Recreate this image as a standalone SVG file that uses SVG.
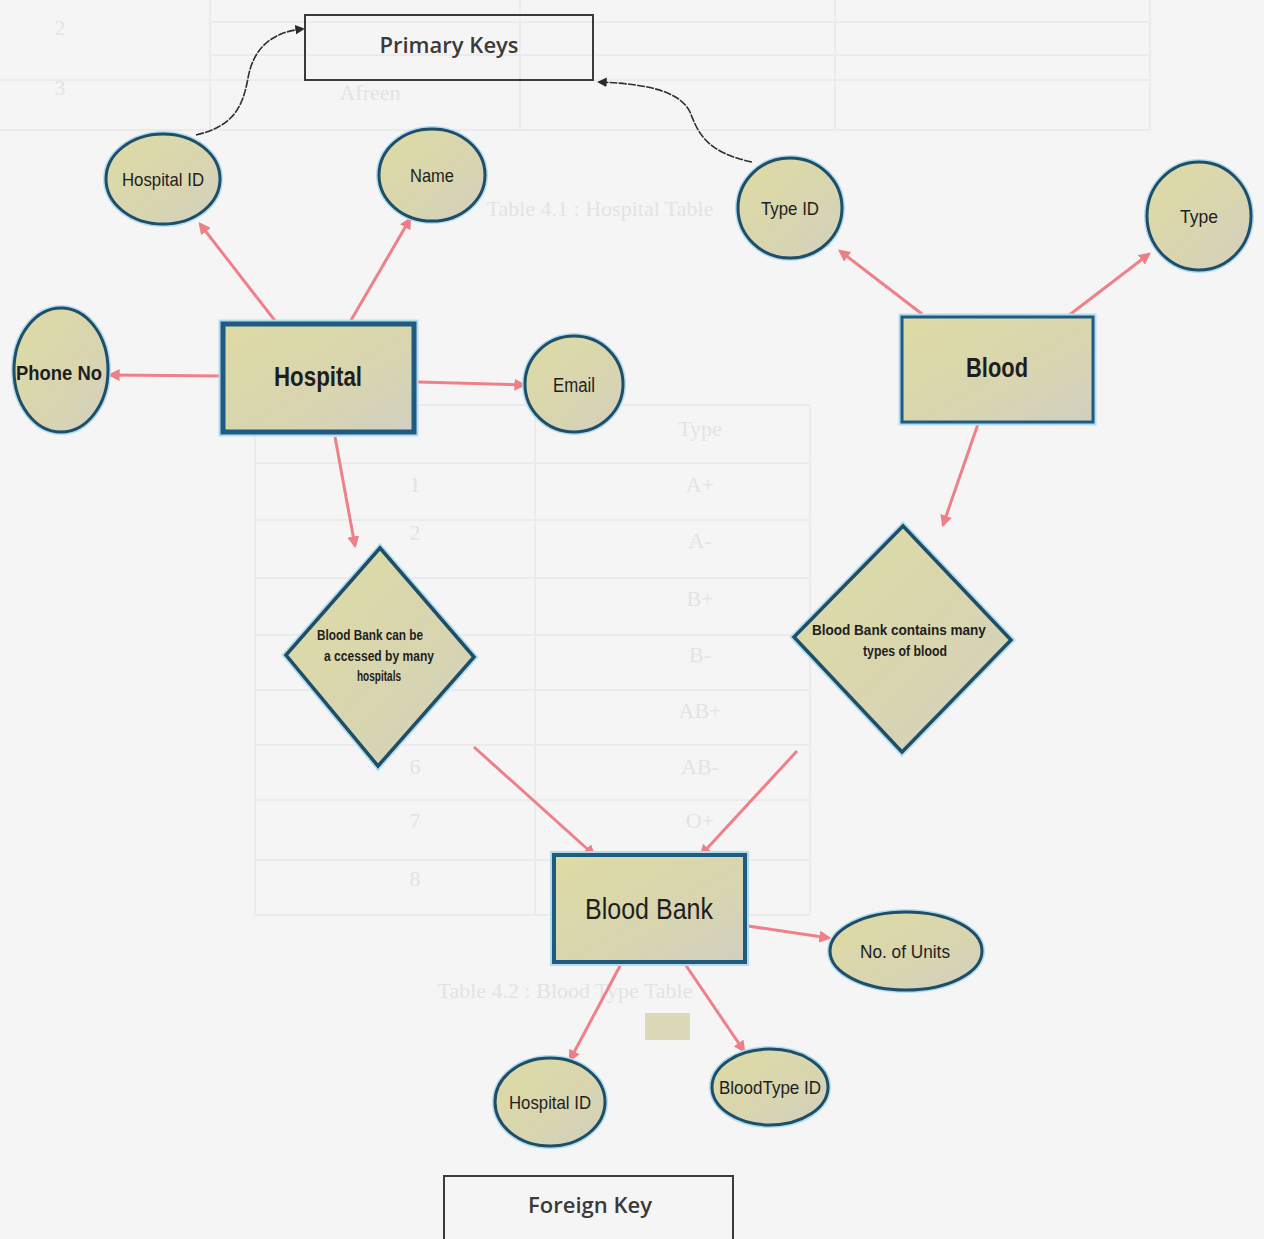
<svg xmlns="http://www.w3.org/2000/svg" width="1264" height="1239" viewBox="0 0 1264 1239">
  <defs>
    <linearGradient id="tan" x1="0" y1="0" x2="1" y2="1">
      <stop offset="0" stop-color="#dedba4"/>
      <stop offset="0.6" stop-color="#d8d5b0"/>
      <stop offset="1" stop-color="#d2cfc2"/>
    </linearGradient>
    <marker id="pink" viewBox="0 0 10 10" refX="8" refY="5" markerWidth="4" markerHeight="4" orient="auto" markerUnits="strokeWidth">
      <path d="M0,0 L10,5 L0,10 z" fill="#ef7f86"/>
    </marker>
    <marker id="dark" viewBox="0 0 10 10" refX="8" refY="5" markerWidth="6" markerHeight="6" orient="auto" markerUnits="strokeWidth">
      <path d="M0,0 L10,5 L0,10 z" fill="#2a2a2a"/>
    </marker>
    <style>
      .ghost { stroke: #ebeaed; stroke-width: 2; fill: none; }
      .ghostText { font-family: "Liberation Serif", serif; font-size: 22px; fill: #e3e2e5; text-anchor: middle; }
      .attr { fill: url(#tan); stroke: #1e4e68; stroke-width: 3; }
      .halo { fill: none; stroke: #b3dcef; stroke-width: 6; }
      .ent { fill: url(#tan); stroke: #1f5a80; }
      .lbl { font-family: "Liberation Sans", sans-serif; fill: #1e1e1e; text-anchor: middle; }
      .key { fill: none; stroke: #3a3a3a; stroke-width: 2; }
      .keyText { font-family: "Open Sans", "Liberation Sans", sans-serif; font-weight: 600; font-size: 22px; fill: #3a3a3a; text-anchor: middle; }
      .rel { stroke: #ef8088; stroke-width: 3; fill: none; marker-end: url(#pink); }
      .pk { stroke: #2f2f2f; stroke-width: 1.6; fill: none; stroke-dasharray: 8 1.2; marker-end: url(#dark); }
    </style>
  </defs>

  <!-- page -->
  <rect width="1264" height="1239" fill="#f6f5f6"/>

  <!-- faint tables printed underneath -->
  <g id="underlay">
    <path class="ghost" d="M210,22 H1150 M210,55 H1150 M0,80 H1150 M0,130 H1150 M210,0 V130 M520,0 V130 M835,0 V130 M1150,0 V130"/>
    <text class="ghostText" x="60" y="35">2</text>
    <text class="ghostText" x="60" y="95">3</text>
    <text class="ghostText" x="370" y="100">Afreen</text>
    <text class="ghostText" x="600" y="216">Table 4.1 : Hospital Table</text>
    <path class="ghost" d="M255,405 H810 M255,463 H810 M255,520 H810 M255,578 H810 M255,635 H810 M255,690 H810 M255,745 H810 M255,800 H810 M255,860 H810 M255,915 H810 M255,405 V915 M535,405 V915 M810,405 V915"/>
    <text class="ghostText" x="700" y="436">Type</text>
    <text class="ghostText" x="415" y="492">1</text>
    <text class="ghostText" x="700" y="492">A+</text>
    <text class="ghostText" x="415" y="540">2</text>
    <text class="ghostText" x="700" y="548">A-</text>
    <text class="ghostText" x="700" y="606">B+</text>
    <text class="ghostText" x="700" y="662">B-</text>
    <text class="ghostText" x="700" y="718">AB+</text>
    <text class="ghostText" x="415" y="774">6</text>
    <text class="ghostText" x="700" y="774">AB-</text>
    <text class="ghostText" x="415" y="828">7</text>
    <text class="ghostText" x="700" y="828">O+</text>
    <text class="ghostText" x="415" y="886">8</text>
    <text class="ghostText" x="565" y="998">Table 4.2 : Blood Type Table</text>
    <rect x="645" y="1013" width="45" height="27" fill="#dcd9b8"/>
  </g>

  <!-- connectors -->
  <g id="connectors">
    <line class="rel" x1="276" y1="322" x2="200" y2="224"/>
    <line class="rel" x1="350" y1="322" x2="410" y2="219"/>
    <line class="rel" x1="221" y1="376" x2="110" y2="375"/>
    <line class="rel" x1="418" y1="382" x2="524" y2="385"/>
    <line class="rel" x1="335" y1="437" x2="355" y2="546"/>
    <line class="rel" x1="922" y1="314" x2="840" y2="251"/>
    <line class="rel" x1="1068" y1="316" x2="1149" y2="254"/>
    <line class="rel" x1="978" y1="424" x2="943" y2="525"/>
    <line class="rel" x1="474" y1="747" x2="594" y2="855"/>
    <line class="rel" x1="797" y1="751" x2="701" y2="855"/>
    <line class="rel" x1="748" y1="926" x2="829" y2="938"/>
    <line class="rel" x1="621" y1="964" x2="570" y2="1060"/>
    <line class="rel" x1="685" y1="964" x2="744" y2="1051"/>
    <path class="pk" d="M196,135 C235,126 243,105 248,78 C253,50 270,32 303,29"/>
    <path class="pk" d="M752,162 C705,152 698,132 690,112 C680,92 650,84 599,82"/>
  </g>

  <!-- key legend boxes -->
  <g id="primary-keys">
    <rect class="key" x="305" y="15" width="288" height="65"/>
    <text class="keyText" x="449" y="53">Primary Keys</text>
  </g>
  <g id="foreign-key">
    <rect class="key" x="444" y="1176" width="289" height="70"/>
    <text class="keyText" x="590" y="1213">Foreign Key</text>
  </g>

  <!-- Hospital entity and its attributes -->
  <g id="hospital">
    <rect x="223" y="324" width="191" height="108" fill="url(#tan)" stroke="#b3dcef" stroke-width="9"/>
    <rect class="ent" x="223" y="324" width="191" height="108" stroke-width="5"/>
    <text class="lbl" x="318" y="386" font-size="27" font-weight="bold" textLength="88" lengthAdjust="spacingAndGlyphs">Hospital</text>
  </g>
  <g id="hospital-id">
    <ellipse class="halo" cx="163" cy="179" rx="57" ry="45"/>
    <ellipse class="attr" cx="163" cy="179" rx="57" ry="45"/>
    <text class="lbl" x="163" y="186" font-size="19" textLength="82" lengthAdjust="spacingAndGlyphs">Hospital ID</text>
  </g>
  <g id="name">
    <ellipse class="halo" cx="432" cy="175" rx="53" ry="46"/>
    <ellipse class="attr" cx="432" cy="175" rx="53" ry="46"/>
    <text class="lbl" x="432" y="182" font-size="19" textLength="44" lengthAdjust="spacingAndGlyphs">Name</text>
  </g>
  <g id="phone-no">
    <ellipse class="halo" cx="61" cy="370" rx="47" ry="62"/>
    <ellipse class="attr" cx="61" cy="370" rx="47" ry="62"/>
    <text class="lbl" x="59" y="380" font-size="20" font-weight="bold" textLength="86" lengthAdjust="spacingAndGlyphs">Phone No</text>
  </g>
  <g id="email">
    <ellipse class="halo" cx="574" cy="384" rx="49" ry="48"/>
    <ellipse class="attr" cx="574" cy="384" rx="49" ry="48"/>
    <text class="lbl" x="574" y="392" font-size="20" textLength="42" lengthAdjust="spacingAndGlyphs">Email</text>
  </g>

  <!-- Blood entity and its attributes -->
  <g id="blood">
    <rect x="902" y="317" width="191" height="105" fill="url(#tan)" stroke="#b3dcef" stroke-width="7"/>
    <rect class="ent" x="902" y="317" width="191" height="105" stroke-width="3"/>
    <text class="lbl" x="997" y="377" font-size="27" font-weight="bold" textLength="62" lengthAdjust="spacingAndGlyphs">Blood</text>
  </g>
  <g id="type-id">
    <ellipse class="halo" cx="790" cy="208" rx="52" ry="50"/>
    <ellipse class="attr" cx="790" cy="208" rx="52" ry="50"/>
    <text class="lbl" x="790" y="215" font-size="19" textLength="58" lengthAdjust="spacingAndGlyphs">Type ID</text>
  </g>
  <g id="type">
    <ellipse class="halo" cx="1199" cy="216" rx="52" ry="54"/>
    <ellipse class="attr" cx="1199" cy="216" rx="52" ry="54"/>
    <text class="lbl" x="1199" y="223" font-size="19" textLength="38" lengthAdjust="spacingAndGlyphs">Type</text>
  </g>

  <!-- relationships -->
  <g id="accessed-by">
    <polygon points="380,548 474,657 378,766 286,655" fill="url(#tan)" stroke="#b3dcef" stroke-width="7"/>
    <polygon points="380,548 474,657 378,766 286,655" fill="url(#tan)" stroke="#1e4e68" stroke-width="3.5"/>
    <text class="lbl" font-size="14" font-weight="bold">
      <tspan x="372" y="640" textLength="106" lengthAdjust="spacingAndGlyphs">Blood Bank can be</tspan>
      <tspan x="381" y="661" textLength="110" lengthAdjust="spacingAndGlyphs">a ccessed by many</tspan>
      <tspan x="379" y="681" textLength="44" lengthAdjust="spacingAndGlyphs">hospitals</tspan>
    </text>
  </g>
  <g id="contains">
    <polygon points="903,526 1011,640 902,752 794,637" fill="url(#tan)" stroke="#b3dcef" stroke-width="7"/>
    <polygon points="903,526 1011,640 902,752 794,637" fill="url(#tan)" stroke="#1e4e68" stroke-width="3.5"/>
    <text class="lbl" font-size="15" font-weight="bold">
      <tspan x="901" y="635" textLength="174" lengthAdjust="spacingAndGlyphs">Blood Bank contains many</tspan>
      <tspan x="905" y="656" textLength="84" lengthAdjust="spacingAndGlyphs">types of blood</tspan>
    </text>
  </g>

  <!-- Blood Bank entity and its attributes -->
  <g id="blood-bank">
    <rect x="554" y="855" width="191" height="107" fill="url(#tan)" stroke="#b3dcef" stroke-width="8"/>
    <rect class="ent" x="554" y="855" width="191" height="107" stroke-width="4"/>
    <text class="lbl" x="649" y="919" font-size="30" textLength="128" lengthAdjust="spacingAndGlyphs">Blood Bank</text>
  </g>
  <g id="no-of-units">
    <ellipse class="halo" cx="906" cy="951" rx="76" ry="39"/>
    <ellipse class="attr" cx="906" cy="951" rx="76" ry="39"/>
    <text class="lbl" x="905" y="958" font-size="19" textLength="90" lengthAdjust="spacingAndGlyphs">No. of Units</text>
  </g>
  <g id="fk-hospital-id">
    <ellipse class="halo" cx="550" cy="1102" rx="55" ry="44"/>
    <ellipse class="attr" cx="550" cy="1102" rx="55" ry="44"/>
    <text class="lbl" x="550" y="1109" font-size="19" textLength="82" lengthAdjust="spacingAndGlyphs">Hospital ID</text>
  </g>
  <g id="bloodtype-id">
    <ellipse class="halo" cx="770" cy="1087" rx="58" ry="38"/>
    <ellipse class="attr" cx="770" cy="1087" rx="58" ry="38"/>
    <text class="lbl" x="770" y="1094" font-size="19" textLength="102" lengthAdjust="spacingAndGlyphs">BloodType ID</text>
  </g>
</svg>
